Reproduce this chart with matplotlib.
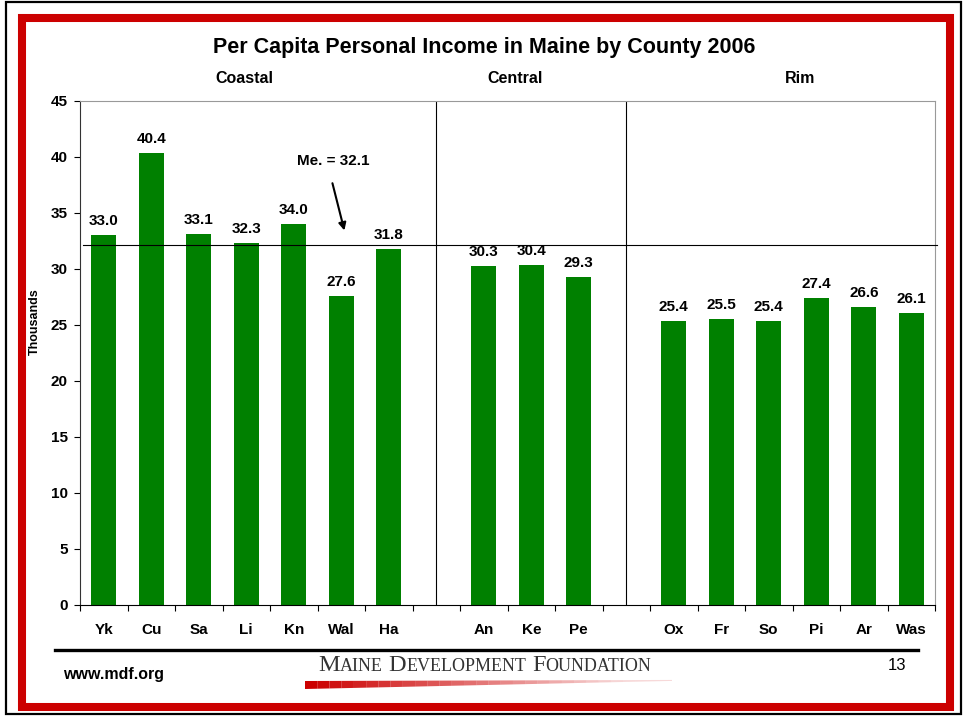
import matplotlib.pyplot as plt
import numpy as np
from matplotlib.patches import Rectangle, Polygon

plt.rcParams['font.family'] = ['Liberation Sans', 'DejaVu Sans']

# Dados
counties = ["Yk", "Cu", "Sa", "Li", "Kn", "Wal", "Ha",
            "An", "Ke", "Pe",
            "Ox", "Fr", "So", "Pi", "Ar", "Was"]
income = [33.0, 40.4, 33.1, 32.3, 34.0, 27.6, 31.8,
          30.3, 30.4, 29.3,
          25.4, 25.5, 25.4, 27.4, 26.6, 26.1]
slots = [0, 1, 2, 3, 4, 5, 6, 8, 9, 10, 12, 13, 14, 15, 16, 17]
groups = ["Coastal", "Central", "Rim"]
group_x = [2.97, 8.66, 14.66]
dividers = [7, 11]
state_avg = 32.1

W, H = 963, 721
fig = plt.figure(figsize=(W / 100, H / 100), dpi=100)
ax = fig.add_axes([80 / W, 1 - 605 / H, 855 / W, 504 / H])

ax.bar(slots, income, width=0.53, color="#008000", zorder=2)
for x, v in zip(slots, income):
    ax.annotate(f"{v:.1f}", (x, v), xytext=(0, 5), textcoords="offset points",
                ha="center", va="bottom", fontsize=11, fontweight="bold")

ax.set_xlim(-0.5, 17.5)
ax.set_ylim(0, 45)
ax.set_yticks(np.arange(0, 46, 5))
ax.set_xticks(np.arange(-0.5, 18, 1))
ax.set_xticklabels([])
ax.set_xticks(slots, minor=True)
ax.set_xticklabels(counties, minor=True)
ax.tick_params(axis="x", which="major", length=4, width=0.8, direction="out")
ax.tick_params(axis="x", which="minor", length=0, pad=13, labelsize=11)
ax.tick_params(axis="y", length=4, width=0.8, pad=5, labelsize=11)
for lab in ax.get_xticklabels(minor=True) + ax.get_yticklabels():
    lab.set_fontweight("bold")

ax.spines["top"].set_color("#999999")
ax.spines["right"].set_color("#999999")
ax.spines["left"].set_color("#333333")
ax.spines["bottom"].set_color("black")

for d in dividers:
    ax.axvline(d, color="black", lw=0.8, zorder=1)
ax.plot([-0.43, 17.55], [state_avg, state_avg], color="black", lw=0.8,
        zorder=3, clip_on=False)

ax.annotate("", xy=(5.08, 33.2), xytext=(4.8, 37.9),
            arrowprops=dict(arrowstyle="-|>", color="black", lw=1.5,
                            mutation_scale=11))
ax.text(4.83, 39.6, "Me. = 32.1", ha="center", va="center",
        fontsize=11, fontweight="bold")

for g, gx in zip(groups, group_x):
    ax.text(gx, 47.0, g, ha="center", va="center", fontsize=11.5,
            fontweight="bold", clip_on=False)

ax.set_ylabel("Thousands", fontsize=9, fontweight="bold")
ax.yaxis.set_label_coords(-0.046, 0.5615)

fig.text(484 / W, 1 - 47 / H, "Per Capita Personal Income in Maine by County 2006",
         ha="center", va="center", fontsize=15.5, fontweight="bold")

# moldura e rodape (coordenadas em pixels)
ov = fig.add_axes([0, 0, 1, 1], facecolor="none", zorder=-1)
ov.set_xlim(0, W)
ov.set_ylim(H, 0)
ov.axis("off")
ov.add_patch(Rectangle((6, 2), 955, 712, fill=False, ec="black", lw=1.6))
ov.add_patch(Rectangle((22, 18), 928, 688.5, fill=False, ec="#cc0000", lw=5.8))
ov.plot([55, 918], [650, 650], color="black", lw=2.4)
ov.text(114, 674, "www.mdf.org", ha="center", va="center", fontsize=11.5,
        fontweight="bold")
ov.text(897, 666, "13", ha="center", va="center", fontsize=12)

# logo
words = [("M", "AINE"), ("D", "EVELOPMENT"), ("F", "OUNDATION")]
fig.canvas.draw()
r = fig.canvas.get_renderer()
x0 = 318
for big, small in words:
    t1 = ov.text(x0, 671, big, ha="left", va="baseline", fontsize=17.5,
                 family="Liberation Serif", color="#333333")
    w1 = t1.get_window_extent(r).width
    t2 = ov.text(x0 + w1, 671, small, ha="left", va="baseline", fontsize=13,
                 family="Liberation Serif", color="#333333")
    w2 = t2.get_window_extent(r).width
    x0 += w1 + w2 + 6
n = 30
xs = np.linspace(305, 672, n + 1)
for i in range(n):
    a, b = xs[i], xs[i + 1]
    th_a = 7 * (1 - i / n) + 1
    th_b = 7 * (1 - (i + 1) / n) + 1
    ya = 689 - (a - 305) * 0.022
    yb = 689 - (b - 305) * 0.022
    ov.add_patch(Polygon([(a, ya), (b, yb), (b, yb - th_b), (a, ya - th_a)],
                         closed=True, fc="#cc0000", ec="none",
                         alpha=max(0.15, 1 - i / n)))

fig.savefig("out.png", dpi=100)
